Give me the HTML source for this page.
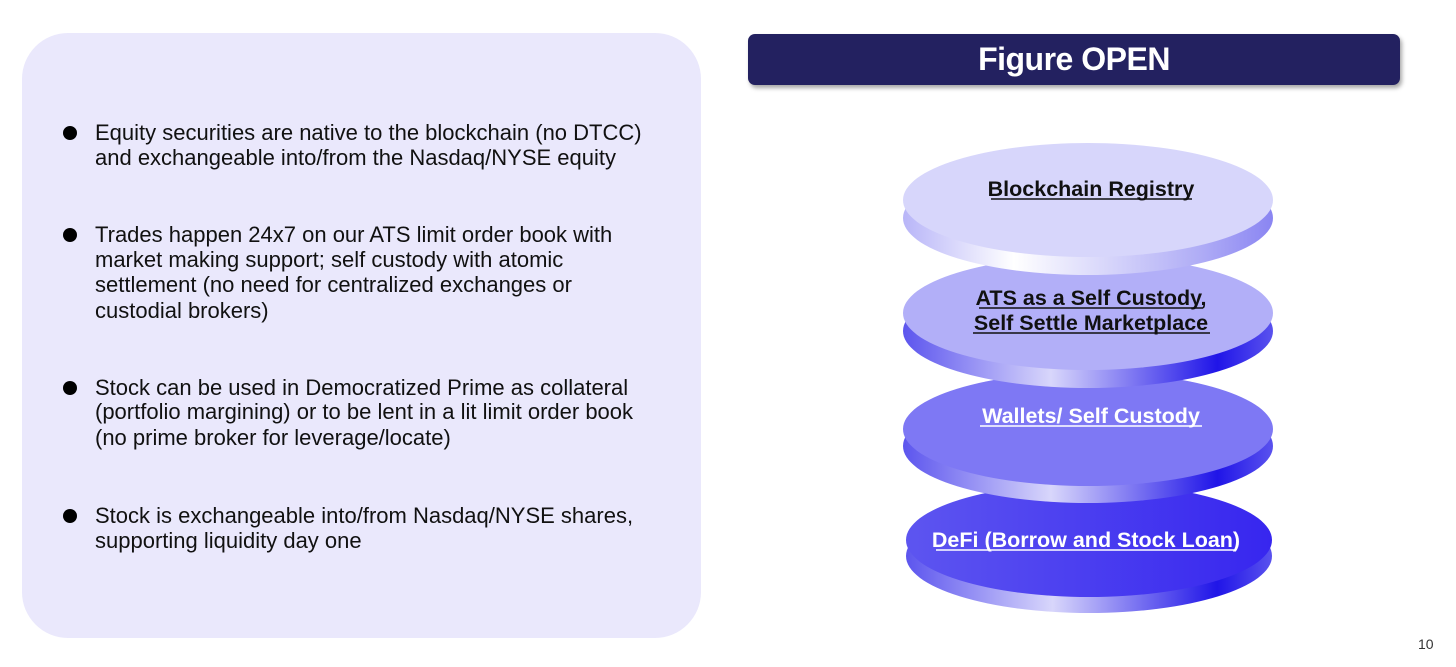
<!DOCTYPE html>
<html><head><meta charset="utf-8"><style>
body{margin:0;width:1456px;height:667px;background:#fff;position:relative;overflow:hidden;font-family:"Liberation Sans",sans-serif}
.panel{position:absolute;left:22px;top:33px;width:679px;height:605px;border-radius:46px;background:#eae8fc}
.l{position:absolute;left:95px;font-size:22px;letter-spacing:0;color:#111;white-space:nowrap;line-height:24px}
.b{position:absolute;left:63px;width:14px;height:14px;border-radius:50%;background:#000}
.title{position:absolute;left:748px;top:34px;width:652px;height:51px;border-radius:7px;background:#232160;box-shadow:2px 3px 4px rgba(0,0,0,.35);color:#fff;font-weight:bold;font-size:32px;text-align:center;line-height:51px;letter-spacing:-0.5px}
.pg{position:absolute;left:1418px;top:636px;font-size:14px;color:#333}
</style></head><body>
<div class="panel"></div>
<div class="b" style="top:126px"></div>
<div class="l" style="top:121px">Equity securities are native to the blockchain (no DTCC)</div>
<div class="l" style="top:146px">and exchangeable into/from the Nasdaq/NYSE equity</div>
<div class="b" style="top:228px"></div>
<div class="l" style="top:223px">Trades happen 24x7 on our ATS limit order book with</div>
<div class="l" style="top:248px">market making support; self custody with atomic</div>
<div class="l" style="top:273px">settlement (no need for centralized exchanges or</div>
<div class="l" style="top:299px">custodial brokers)</div>
<div class="b" style="top:381px"></div>
<div class="l" style="top:376px">Stock can be used in Democratized Prime as collateral</div>
<div class="l" style="top:400px">(portfolio margining) or to be lent in a lit limit order book</div>
<div class="l" style="top:426px">(no prime broker for leverage/locate)</div>
<div class="b" style="top:509px"></div>
<div class="l" style="top:504px">Stock is exchangeable into/from Nasdaq/NYSE shares,</div>
<div class="l" style="top:529px">supporting liquidity day one</div>
<div class="title">Figure OPEN</div>
<svg style="position:absolute;left:0;top:0" width="1456" height="667">
<defs>
<linearGradient id="s1" x1="0" x2="1"><stop offset="0" stop-color="#b8b5f8"/><stop offset=".3" stop-color="#fff"/><stop offset=".8" stop-color="#b0adf6"/><stop offset="1" stop-color="#8a85f2"/></linearGradient>
<linearGradient id="s2" x1="0" x2="1"><stop offset="0" stop-color="#5c55ee"/><stop offset=".4" stop-color="#d8d6fb"/><stop offset=".85" stop-color="#2015e8"/><stop offset="1" stop-color="#5a52ee"/></linearGradient>
<linearGradient id="f4" x1="0" x2="1"><stop offset="0" stop-color="#5d55f0"/><stop offset="1" stop-color="#3726ef"/></linearGradient>
</defs>
<g>
<ellipse cx="1089" cy="556" rx="183" ry="57" fill="url(#s2)"/>
<ellipse cx="1089" cy="540" rx="183" ry="57" fill="url(#f4)"/>
<ellipse cx="1088" cy="446" rx="185" ry="57" fill="url(#s2)"/>
<ellipse cx="1088" cy="429" rx="185" ry="57" fill="#7e78f4"/>
<ellipse cx="1088" cy="331" rx="185" ry="57" fill="url(#s2)"/>
<ellipse cx="1088" cy="313" rx="185" ry="57" fill="#b2aff8"/>
<ellipse cx="1088" cy="218" rx="185" ry="57" fill="url(#s1)"/>
<ellipse cx="1088" cy="200" rx="185" ry="57" fill="#d7d6fb"/>
</g>
<g font-family="Liberation Sans, sans-serif" font-weight="bold" font-size="21.5" text-anchor="middle">
<text x="1091" y="196" fill="#111">Blockchain Registry</text>
<text x="1091" y="305" fill="#111">ATS as a Self Custody,</text>
<text x="1091" y="330" fill="#111">Self Settle Marketplace</text>
<text x="1091" y="423" fill="#fff">Wallets/ Self Custody</text>
<text x="1086" y="547" fill="#fff">DeFi (Borrow and Stock Loan)</text>
</g>
<g stroke-width="1.5">
<line x1="991" y1="199" x2="1192" y2="199" stroke="#111"/>
<line x1="979" y1="308" x2="1203" y2="308" stroke="#111"/>
<line x1="973" y1="333" x2="1210" y2="333" stroke="#111"/>
<line x1="980" y1="426" x2="1202" y2="426" stroke="#fff"/>
<line x1="936" y1="550" x2="1236" y2="550" stroke="#fff"/>
</g>
</svg>
<div class="pg">10</div>
</body></html>
